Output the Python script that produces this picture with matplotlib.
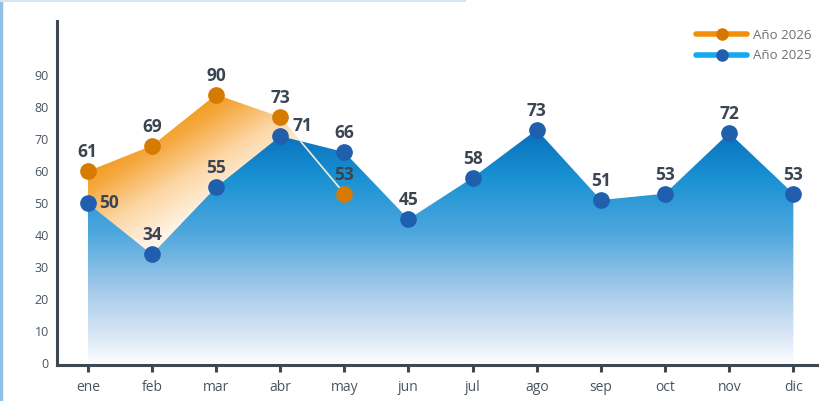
import numpy as np
import matplotlib
matplotlib.use("Agg")
import matplotlib.pyplot as plt
from matplotlib.colors import LinearSegmentedColormap
from matplotlib.patches import Polygon
from matplotlib.lines import Line2D

plt.rcParams["font.family"] = ["Open Sans", "DejaVu Sans"]

months = ["ene", "feb", "mar", "abr", "may", "jun", "jul", "ago", "sep", "oct", "nov", "dic"]
vals_2025 = [50, 34, 55, 71, 66, 45, 58, 73, 51, 53, 72, 53]
# 2026 points as drawn in the source chart, and the numbers it prints on them
vals_2026 = [60, 68, 84, 77, 53]
labels_2026 = ["61", "69", "90", "73", "53"]

TEXT = "#3b4552"
SPINE = "#3d4853"

fig = plt.figure(figsize=(8.19, 4.01), dpi=100)
ax = fig.add_axes([57 / 819, 1 - 365 / 401, 1 - 57 / 819, (365 - 21) / 401])
ax.set_xlim(-0.48, 11.4)
ax.set_ylim(-0.6, 107)

x25 = np.arange(len(vals_2025))
x26 = np.arange(len(vals_2026))

# orange area (drawn under the blue one), diagonal gradient
verts26 = [(0, 0)] + list(zip(x26, vals_2026)) + [(x26[-1], 0)]
poly26 = Polygon(verts26, closed=True, facecolor="none", edgecolor="none", zorder=1)
ax.add_patch(poly26)
gx, gy = np.meshgrid(np.linspace(0, 4, 300), np.linspace(0, 90, 300))
s = 0.6 * gx * 64 + (90 - gy) * 3.2
light = np.clip((s - 75) / 130, 0, 1)
cmap_o = LinearSegmentedColormap.from_list(
    "o", [(0, "#f29300"), (0.3, "#f5a83e"), (0.65, "#fcd6a4"), (1, "#fff3e5")])
im_o = ax.imshow(light, cmap=cmap_o, vmin=0, vmax=1, origin="lower",
                 extent=[0, 4, 0, 90], aspect="auto", zorder=1, interpolation="bilinear")
im_o.set_clip_path(poly26)

# blue area, vertical gradient
verts25 = [(0, 0)] + list(zip(x25, vals_2025)) + [(x25[-1], 0)]
poly25 = Polygon(verts25, closed=True, facecolor="none", edgecolor="none", zorder=2)
ax.add_patch(poly25)
cmap_b = LinearSegmentedColormap.from_list(
    "b", [(0.0, "#fbfdff"), (0.12, "#d8e6f5"), (0.3, "#a6cbea"),
          (0.55, "#4ea7dd"), (0.78, "#1a92d3"), (1.0, "#066cb9")])
grad = np.linspace(0, 1, 256).reshape(-1, 1)
im_b = ax.imshow(grad, cmap=cmap_b, origin="lower", extent=[0, 11, 0, 74],
                 aspect="auto", zorder=2, interpolation="bilinear")
im_b.set_clip_path(poly25)

# thin line of the 2026 series, only visible where it crosses the blue area
ln, = ax.plot(x26, vals_2026, color="#f8ead8", lw=1.2, zorder=3)
ln.set_clip_path(poly25)

ax.plot(x26, vals_2026, "o", color="#d67a00", ms=11, zorder=5)
ax.plot(x25, vals_2025, "o", color="#1f5fae", ms=11, zorder=4)

for x, y, s in zip(x26, vals_2026, labels_2026):
    ax.annotate(s, (x, y), xytext=(0, 10), textcoords="offset points",
                ha="center", va="baseline", fontsize=12.5, fontweight="bold",
                color=TEXT, zorder=6)
for i, (x, y) in enumerate(zip(x25, vals_2025)):
    if i == 0:
        off, ha, va = (8, 0), "left", "center"
    elif i == 3:
        off, ha, va = (9, 4), "left", "baseline"
    else:
        off, ha, va = (0, 10), "center", "baseline"
    ax.annotate(str(y), (x, y), xytext=off, textcoords="offset points",
                ha=ha, va=va, fontsize=12.5, fontweight="bold", color=TEXT, zorder=6)

ax.set_xticks(x25)
ax.set_xticklabels(months)
ax.set_yticks(range(0, 100, 10))
ax.tick_params(axis="x", length=5, width=2.2, color=SPINE, pad=6,
               labelsize=10, labelcolor="#4a5560")
ax.tick_params(axis="y", length=0, pad=6, labelsize=9, labelcolor="#4a5560")
for side in ["top", "right"]:
    ax.spines[side].set_visible(False)
for side in ["left", "bottom"]:
    ax.spines[side].set_color(SPINE)
    ax.spines[side].set_linewidth(2.2)

handles = [
    Line2D([], [], color="#f0900a", lw=4, marker="o", ms=8,
           markerfacecolor="#d47800", markeredgecolor="#d47800", solid_capstyle="round"),
    Line2D([], [], color="#12aaf0", lw=4, marker="o", ms=8,
           markerfacecolor="#1f5fae", markeredgecolor="#1f5fae", solid_capstyle="round"),
]
leg = ax.legend(handles, ["Año 2026", "Año 2025"], loc="upper right",
                bbox_to_anchor=(1.0, 1.0), frameon=False, fontsize=9.5,
                handlelength=3.9, handletextpad=0.4, labelspacing=0.55,
                borderaxespad=0.2)
for t in leg.get_texts():
    t.set_color("#707070")

# page decorations
fig.add_artist(Line2D([0.0015, 0.0015], [0, 1], transform=fig.transFigure,
                      color="#92c1e8", lw=2.5))
fig.add_artist(Line2D([0, 465 / 819], [0.9985, 0.9985], transform=fig.transFigure,
                      color="#d5e5f5", lw=1.5))

fig.savefig("out.png", dpi=100)
